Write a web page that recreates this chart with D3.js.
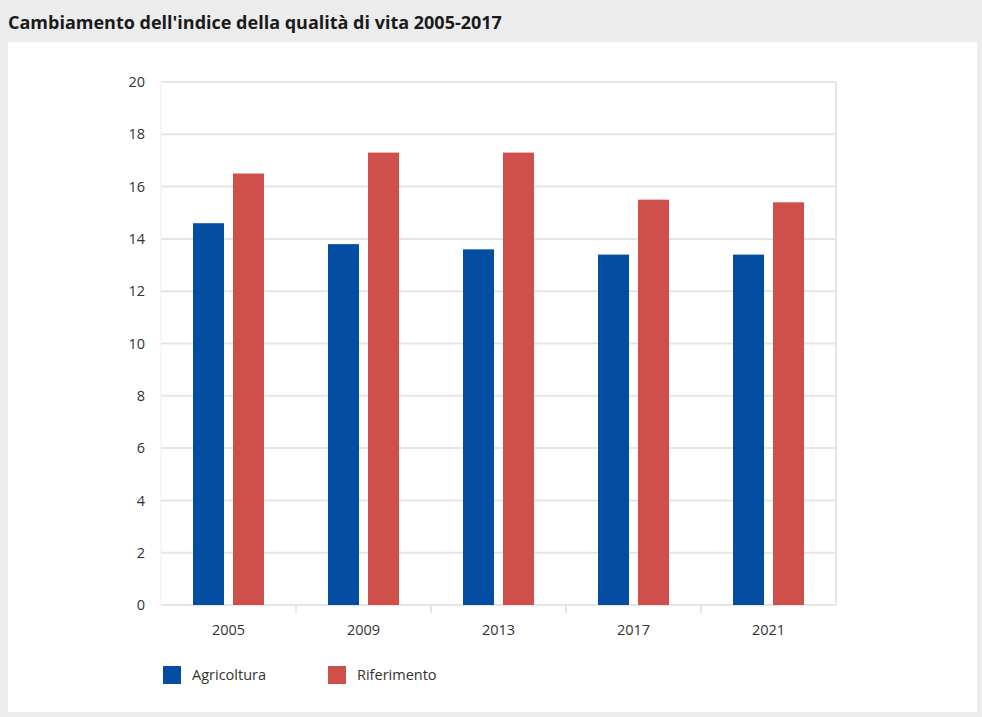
<html>
<head>
<meta charset="utf-8">
<title>Cambiamento dell'indice della qualità di vita</title>
<style>
  body { margin:0; background:#ececec; }
  svg { display:block; }
</style>
<script src="https://d3js.org/d3.v7.min.js"></script>
</head>
<body>
<script>
var years = ["2005", "2009", "2013", "2017", "2021"];
var agricoltura = [14.6, 13.8, 13.6, 13.4, 13.4];
var riferimento = [16.5, 17.3, 17.3, 15.5, 15.4];
var seriesNames = ["Agricoltura", "Riferimento"];
var yTicks = [0, 2, 4, 6, 8, 10, 12, 14, 16, 18, 20];

var W = 982, H = 717;
var m = {left:161, right:836, top:82, bottom:605};
var color = d3.scaleOrdinal(seriesNames, ["#034ea2", "#cf4f4b"]);
var labelFont = "14.5px 'Open Sans', sans-serif";

var svg = d3.select("body").append("svg").attr("width", W).attr("height", H);

// title band + white panel
svg.append("rect").attr("x",0).attr("y",0).attr("width",W).attr("height",H).attr("fill","#ececec");
svg.append("rect").attr("x",8).attr("y",42).attr("width",969).attr("height",670).attr("fill","#fff");
svg.append("text").text("Cambiamento dell'indice della qualità di vita 2005-2017")
  .attr("x",8).attr("y",29)
  .style("font","bold 18px 'Open Sans', sans-serif").style("fill","#1a1a1a");

var x = d3.scaleBand().domain(years).range([m.left, m.right]);
var y = d3.scaleLinear().domain([0,20]).range([m.bottom, m.top]);

// grid
svg.append("g").selectAll("line").data(yTicks).enter().append("line")
  .attr("x1",m.left).attr("x2",m.right)
  .attr("y1",d=>y(d)).attr("y2",d=>y(d))
  .attr("stroke","#e5e5e5").attr("stroke-width",2);
svg.append("line").attr("x1",m.right).attr("x2",m.right).attr("y1",m.top).attr("y2",m.bottom)
  .attr("stroke","#e5e5e5").attr("stroke-width",2);
svg.append("line").attr("x1",m.left).attr("x2",m.left).attr("y1",m.top).attr("y2",m.bottom)
  .attr("stroke","#eeeeee").attr("stroke-width",1);

// y axis
var yAxis = svg.append("g").attr("transform","translate("+(m.left-16)+",0)")
  .call(d3.axisLeft(y).tickValues(yTicks).tickSize(0).tickPadding(0));
yAxis.select(".domain").remove();
yAxis.selectAll("text").style("font",labelFont).style("fill","#333");

// x axis
var xAxis = svg.append("g").attr("transform","translate(0,"+m.bottom+")")
  .call(d3.axisBottom(x).tickSize(0).tickPadding(20));
xAxis.select(".domain").remove();
xAxis.selectAll("text").style("font",labelFont).style("fill","#333");
svg.append("g").selectAll("line").data(years.slice(1)).enter().append("line")
  .attr("x1",d=>x(d)).attr("x2",d=>x(d))
  .attr("y1",m.bottom).attr("y2",m.bottom+8)
  .attr("stroke","#e5e5e5").attr("stroke-width",2);

// bars
var inner = d3.scaleBand().domain(seriesNames).range([-20-15.5, 20+15.5]).paddingInner(9/40);
var rows = years.map((yr,i)=>({year:yr, values:[agricoltura[i], riferimento[i]]}));
var groups = svg.append("g").selectAll("g").data(rows).enter().append("g")
  .attr("transform",d=>"translate("+(x(d.year)+x.bandwidth()/2)+",0)");
groups.selectAll("rect").data(d=>d.values.map((v,j)=>({name:seriesNames[j], value:v})))
  .enter().append("rect")
  .attr("x",d=>inner(d.name)).attr("width",inner.bandwidth())
  .attr("y",d=>y(d.value)).attr("height",d=>y(0)-y(d.value))
  .attr("fill",d=>color(d.name));

// legend
var legend = svg.append("g").selectAll("g").data(seriesNames).enter().append("g")
  .attr("transform",(d,i)=>"translate("+(163+i*165)+",666)");
legend.append("rect").attr("width",18).attr("height",18).attr("fill",d=>color(d));
legend.append("text").text(d=>d).attr("x",29).attr("y",9).attr("dy","0.35em")
  .style("font",labelFont).style("fill","#333");
</script>
</body>
</html>
